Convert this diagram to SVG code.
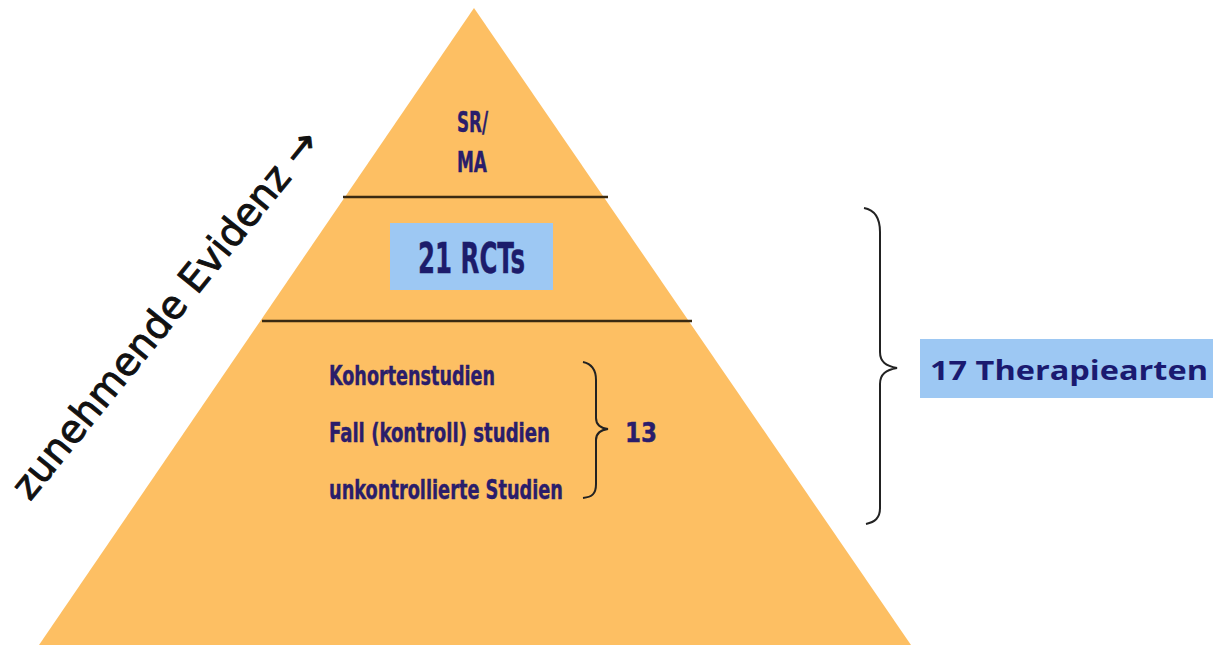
<svg xmlns="http://www.w3.org/2000/svg" width="1213" height="645" viewBox="0 0 1213 645">
<style>
.py{font-family:"DejaVu Sans Condensed","DejaVu Sans",sans-serif;font-weight:bold;fill:#2a1d6b;stroke:#2a1d6b;stroke-width:0.4}
.sep{stroke:#3a2a12;stroke-width:2.5}
.brace{fill:none;stroke:#222;stroke-width:2}
.hl{fill:#9dc8f3}
</style>
<rect width="1213" height="645" fill="#ffffff"/>
<g id="pyramid">
<polygon points="474,8 911,645 39,645" fill="#fdbf63"/>
</g>
<g id="separators">
<line class="sep" x1="343" y1="197" x2="608" y2="197"/>
<line class="sep" x1="262" y1="321" x2="692" y2="321"/>
</g>
<g id="sr-ma">
<text class="py" x="457" y="132" font-size="28" textLength="31" lengthAdjust="spacingAndGlyphs">SR/</text>
<text class="py" x="457" y="172" font-size="28" textLength="30" lengthAdjust="spacingAndGlyphs">MA</text>
</g>
<g id="rcts">
<rect class="hl" x="390" y="223" width="163" height="67"/>
<text class="py" x="418" y="273" font-size="42" textLength="107" lengthAdjust="spacingAndGlyphs" style="fill:#1c1c6b;stroke:#1c1c6b">21 RCTs</text>
</g>
<g id="studies">
<text class="py" x="329" y="385" font-size="26" textLength="166" lengthAdjust="spacingAndGlyphs">Kohortenstudien</text>
<text class="py" x="329" y="442" font-size="26" textLength="221" lengthAdjust="spacingAndGlyphs">Fall (kontroll) studien</text>
<text class="py" x="329" y="499" font-size="26" textLength="234" lengthAdjust="spacingAndGlyphs">unkontrollierte Studien</text>
<text class="py" x="625" y="442" font-size="26" textLength="32" lengthAdjust="spacingAndGlyphs">13</text>
</g>
<g id="connectors">
<path class="brace" d="M583,362 C592,364 596,370 596,380 L596,418 C596,424 600,428 608,429 C600,430 596,434 596,440 L596,484 C596,494 592,497 583,498"/>
<path class="brace" d="M864,208 C875,210 880,218 880,232 L880,352 C880,362 886,366 897,368 C886,370 880,374 880,384 L880,508 C880,518 875,522 866,524"/>
</g>
<g id="therapiearten">
<rect class="hl" x="920" y="339" width="293" height="59"/>
<text x="930" y="380" font-family="'Open Sans','DejaVu Sans',sans-serif" font-weight="bold" font-size="26" fill="#1a1a70" textLength="278" lengthAdjust="spacingAndGlyphs">17 Therapiearten</text>
</g>
<g id="evidenz">
<text x="30" y="502" transform="rotate(-51 30 502)" font-family="'DejaVu Sans',Verdana,sans-serif" font-size="39" fill="#111" stroke="#111" stroke-width="0.9" textLength="462" lengthAdjust="spacingAndGlyphs">zunehmende Evidenz →</text>
</g>
</svg>
